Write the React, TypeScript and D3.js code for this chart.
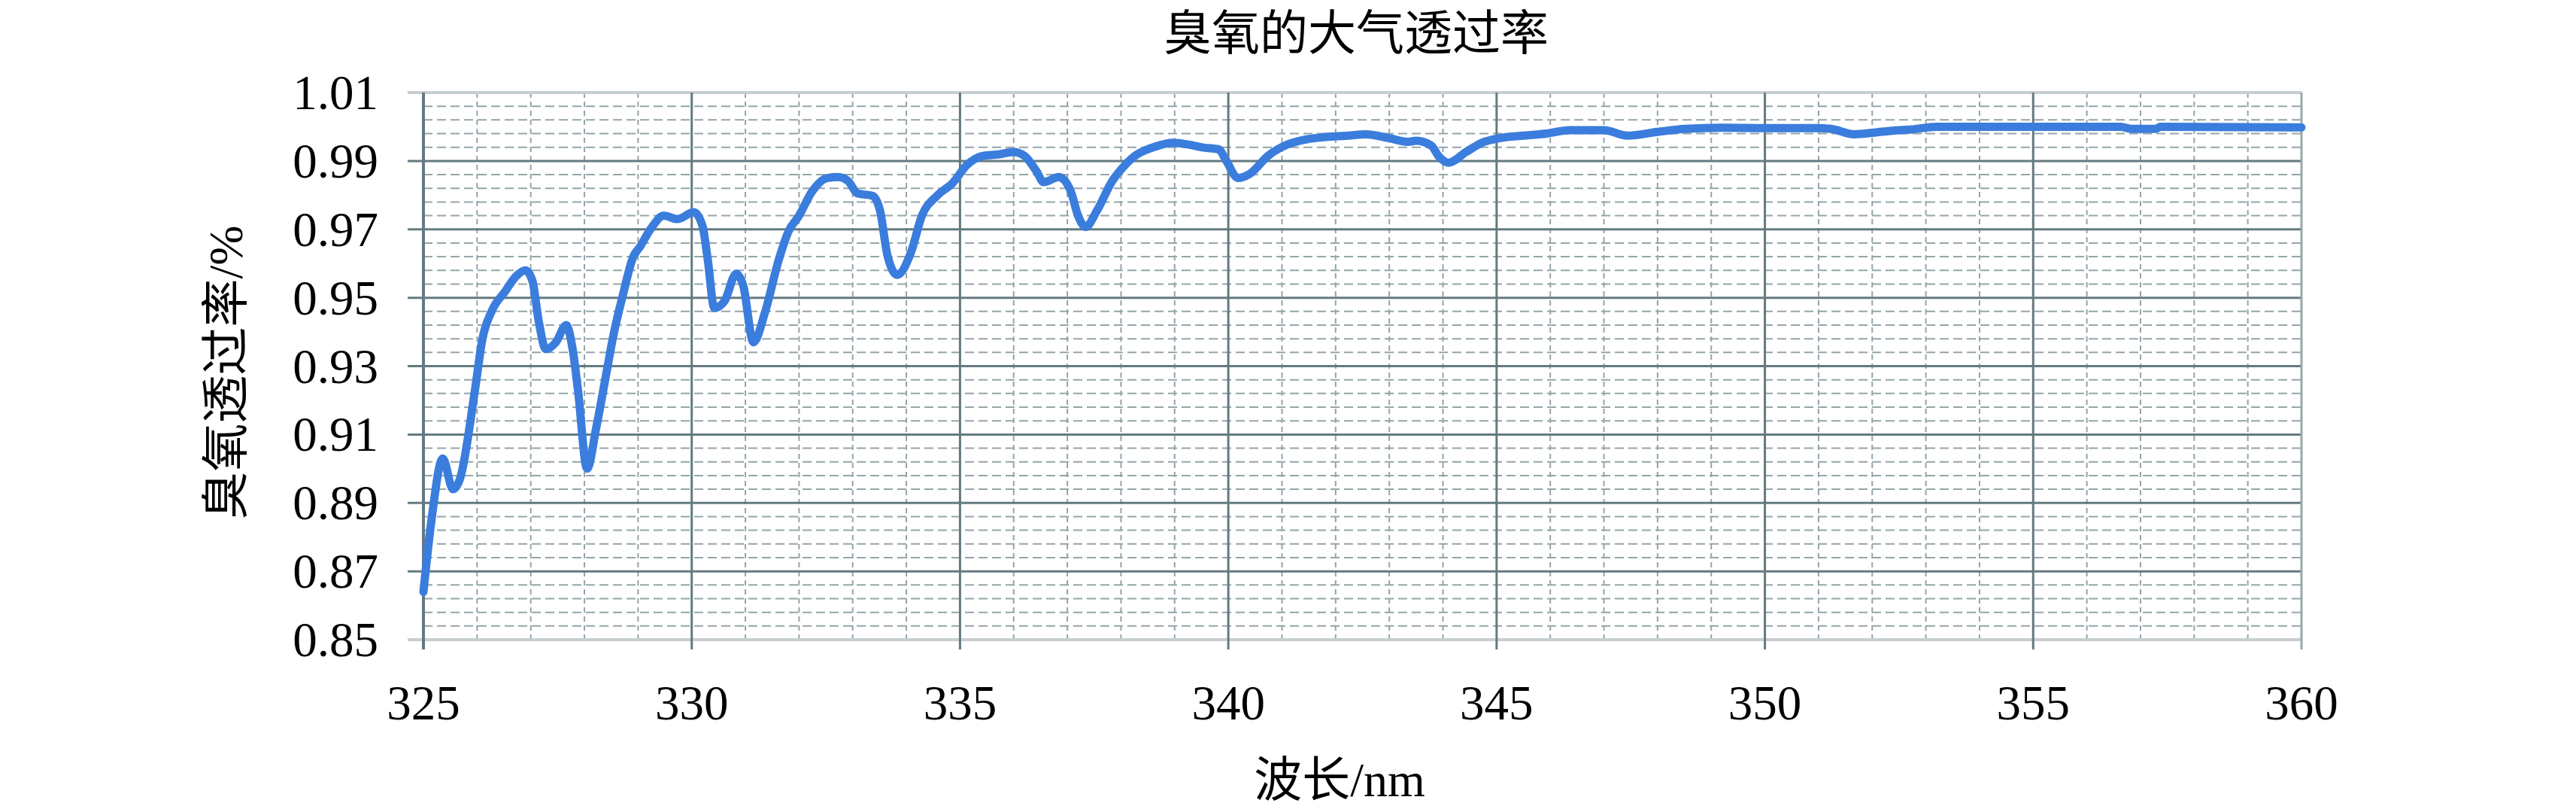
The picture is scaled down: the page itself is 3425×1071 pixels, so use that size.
import * as d3 from "d3";
import React from "react";

// wavelength (nm)
const wavelength = [
  325.0, 325.15, 325.36, 325.55, 325.68, 325.96, 326.1, 326.27, 326.53, 326.71,
  326.9, 327.03, 327.15, 327.28, 327.47, 327.66, 327.78, 327.88, 328.05, 328.22,
  328.41, 328.54, 328.72, 328.91, 329.04, 329.23, 329.48, 329.73, 330.04, 330.2,
  330.3, 330.42, 330.61, 330.83, 330.96, 331.15, 331.37, 331.62, 331.81, 332.0,
  332.24, 332.52, 332.73, 332.91, 333.09, 333.37, 333.51, 333.65, 333.83, 334.08,
  334.29, 334.57, 334.86, 335.14, 335.43, 335.71, 335.99, 336.2, 336.42, 336.56,
  336.84, 337.06, 337.2, 337.34, 337.55, 337.84, 337.98, 338.26, 338.62, 338.97,
  339.26, 339.54, 339.82, 339.96, 340.18, 340.39, 340.74, 341.1, 341.45, 341.81,
  342.23, 342.56, 342.99, 343.35, 343.5, 343.78, 343.93, 344.1, 344.43, 344.71,
  345.07, 345.5, 345.93, 346.36, 347.0, 347.44, 348.0, 348.51, 349.23, 349.94,
  350.95, 351.23, 351.66, 352.09, 352.41, 352.73, 353.19, 356.63, 356.82, 357.28,
  357.37, 360.0,
];

// ozone transmittance
const transmittance = [
  0.864, 0.885, 0.903, 0.894, 0.897, 0.923, 0.938, 0.946, 0.952, 0.956,
  0.958, 0.955, 0.943, 0.935, 0.937, 0.942, 0.935, 0.923, 0.9, 0.912,
  0.928, 0.939, 0.951, 0.962, 0.965, 0.97, 0.974, 0.973, 0.975, 0.971,
  0.961, 0.947, 0.949, 0.957, 0.9535, 0.937, 0.946, 0.961, 0.9696, 0.974,
  0.981, 0.985, 0.9853, 0.9842, 0.9805, 0.9798, 0.9754, 0.9622, 0.9567, 0.963,
  0.974, 0.9798, 0.9835, 0.989, 0.9915, 0.9919, 0.9926, 0.9915, 0.9871, 0.9838,
  0.9853, 0.9813, 0.974, 0.9707, 0.9754, 0.9842, 0.9871, 0.9915, 0.9941, 0.9953,
  0.9948, 0.9939, 0.9934, 0.9901, 0.985, 0.9861, 0.9915, 0.9948, 0.9963, 0.997,
  0.9974, 0.9978, 0.9967, 0.9956, 0.9959, 0.9945, 0.9912, 0.9895, 0.9926, 0.9952,
  0.9967, 0.9974, 0.998, 0.999, 0.999, 0.9974, 0.9985, 0.9994, 0.9997, 0.9996,
  0.9996, 0.9994, 0.9978, 0.9984, 0.9989, 0.9992, 1.0, 1.0, 0.9994, 0.9994,
  1.0, 0.9998,
];

const xTicks = [325, 330, 335, 340, 345, 350, 355, 360];
const yTickLabels = ["0.85", "0.87", "0.89", "0.91", "0.93", "0.95", "0.97", "0.99", "1.01"];

const title = "臭氧的大气透过率";
const xTitle = "波长/nm";
const yTitle = "臭氧透过率/%";

export default function App() {
  const W = 3425, H = 1071;
  const left = 563, right = 3060, top = 123, bottom = 850;

  const x = d3.scaleLinear().domain([325, 360]).range([left, right]);
  const y = d3.scaleLinear().domain([0.85, 1.01]).range([bottom, top]);

  const data = wavelength.map((w, i) => [w, transmittance[i]] as [number, number]);
  const line = d3.line<[number, number]>()
    .x((d) => x(d[0]))
    .y((d) => y(d[1]))
    .curve(d3.curveMonotoneX);

  // minor grid: every 1 nm and every 0.004
  const xMinor = d3.range(0, 36).filter((i) => i % 5 !== 0).map((i) => 325 + i);
  const yMinor = d3.range(0, 41).filter((i) => i % 5 !== 0).map((i) => 0.85 + i * 0.004);

  const font = "'Liberation Serif', 'Times New Roman', 'Noto Sans CJK SC', serif";
  const major = "#647a80";
  const minor = "#94a5a9";

  return (
    <svg width={W} height={H} style={{ position: "absolute", left: 0, top: 0, background: "#fff" }}>
      <rect width={W} height={H} fill="#fff" />

      {/* minor grid */}
      {yMinor.map((v, i) => (
        <line key={"ym" + i} x1={left} x2={right} y1={y(v)} y2={y(v)}
          stroke={minor} strokeWidth={2} strokeDasharray="12,6" />
      ))}
      {xMinor.map((v) => (
        <line key={"xm" + v} x1={x(v)} x2={x(v)} y1={top} y2={bottom}
          stroke={minor} strokeWidth={2} strokeDasharray="7,5" />
      ))}

      {/* major grid + y ticks */}
      {yTickLabels.map((t) => {
        const v = +t;
        const edge = v === 0.85 || v === 1.01;
        return (
          <g key={"y" + t}>
            <line x1={left - 21} x2={right} y1={y(v)} y2={y(v)}
              stroke={edge ? "#c6ced1" : major} strokeWidth={edge ? 4 : 3} />
            <text x={503} y={y(v)} textAnchor="end" dominantBaseline="central"
              fontFamily={font} fontSize={65} fill="#000">{t}</text>
          </g>
        );
      })}
      {xTicks.map((v) => (
        <g key={"x" + v}>
          <line x1={x(v)} x2={x(v)} y1={top} y2={bottom + 13}
            stroke={v === 360 ? "#9aa7ab" : major} strokeWidth={v === 325 ? 4 : 3} />
          <text x={x(v)} y={934} textAnchor="middle" dominantBaseline="central"
            fontFamily={font} fontSize={65} fill="#000">{v}</text>
        </g>
      ))}

      {/* series */}
      <path d={line(data) || ""} fill="none" stroke="#3b7ddd" strokeWidth={11}
        strokeLinejoin="round" strokeLinecap="round" />

      {/* titles */}
      <text x={1803} y={44} textAnchor="middle" dominantBaseline="central"
        fontFamily={font} fontSize={64} fill="#000">{title}</text>
      <text x={1781} y={1036} textAnchor="middle" dominantBaseline="central"
        fontFamily={font} fontSize={64} fill="#000">{xTitle}</text>
      <text transform={`translate(300,495) rotate(-90)`} textAnchor="middle" dominantBaseline="central"
        fontFamily={font} fontSize={64} fill="#000">{yTitle}</text>
    </svg>
  );
}
